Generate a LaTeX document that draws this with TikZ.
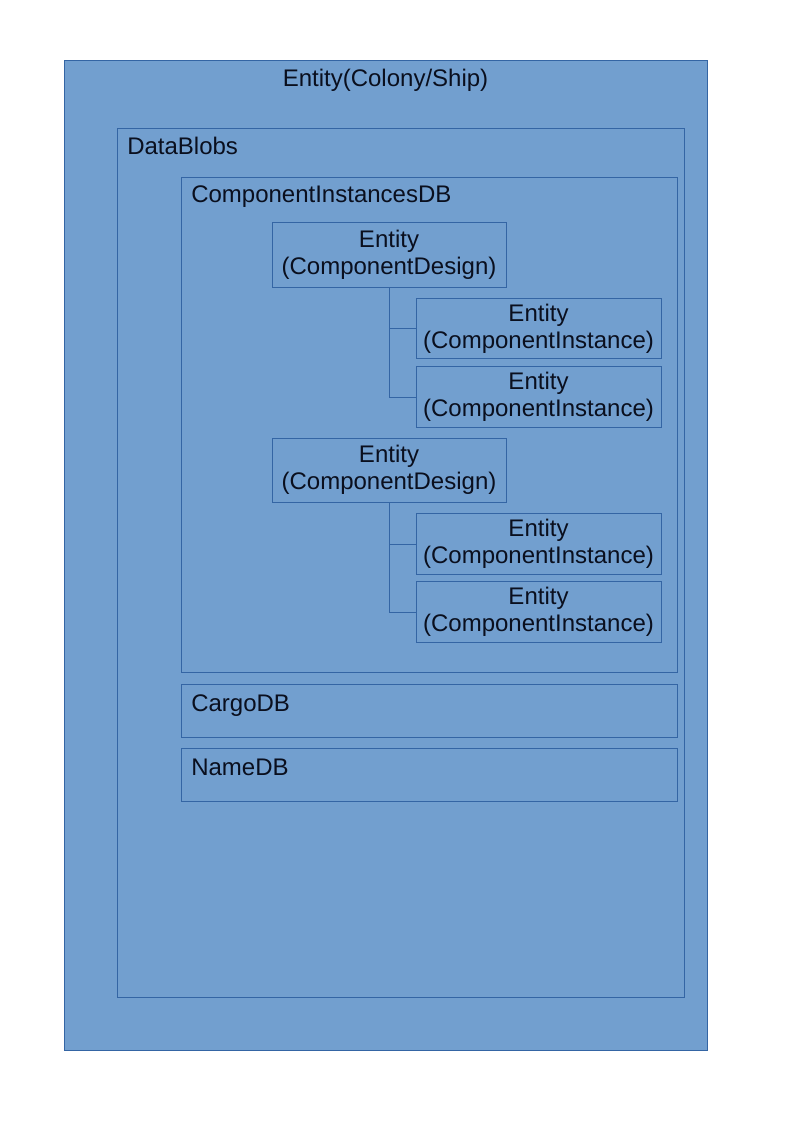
\documentclass[tikz,border=0pt]{standalone}
\usepackage{fontspec}
\setmainfont{Liberation Sans}
\usepackage{tikz}
\usetikzlibrary{fit}
\definecolor{boxfill}{HTML}{729FCF}
\definecolor{boxline}{HTML}{3465A4}
\definecolor{txtdark}{RGB}{10,15,30}
\tikzset{
  box/.style={rectangle, draw=boxline, fill=boxfill, line width=0.75pt, inner sep=0pt},
  entbox/.style={rectangle, draw=boxline, fill=boxfill, line width=0.75pt,
    align=center, inner sep=1pt, text=txtdark,
    font=\fontsize{18}{20.5}\selectfont},
  design/.style={entbox, minimum width=175.5pt, minimum height=48pt},
  instance/.style={entbox, minimum width=183.75pt, minimum height=45.4pt},
  lbl/.style={anchor=base west, inner sep=0pt, text=txtdark,
    font=\fontsize{18}{20.5}\selectfont},
  conn/.style={draw=boxline, line width=0.75pt}
}
\begin{document}
\begin{tikzpicture}[x=0.75pt, y=-0.75pt]
  \useasboundingbox (0,0) rectangle (794,1123);

  % Containers
  \node[box, fit={(64,61) (707,1050)}] (ship) {};
  \node[box, fit={(117,129) (684,997)}] (blobs) {};
  \node[box, fit={(181,178) (677,672)}] (cidb) {};
  \node[box, fit={(181,684) (677,737)}] (cargo) {};
  \node[box, fit={(181,748) (677,801)}] (names) {};

  % Container labels
  \node[lbl, anchor=base] (shiplbl) at (385.5,87) {Entity(Colony/Ship)};
  \node[lbl] (blobslbl) at (127,155) {DataBlobs};
  \node[lbl] (cidblbl) at (191,203) {ComponentInstancesDB};
  \node[lbl] (cargolbl) at (191,711) {CargoDB};
  \node[lbl] (nameslbl) at (191,775) {NameDB};

  % Designs and their instances
  \node[design] (des1) at (389,255) {Entity\\(ComponentDesign)};
  \node[instance] (inst1) at (538.5,328.5) {Entity\\(ComponentInstance)};
  \node[instance] (inst2) at (538.5,397) {Entity\\(ComponentInstance)};
  \node[design] (des2) at (389,470) {Entity\\(ComponentDesign)};
  \node[instance] (inst3) at (538.5,544) {Entity\\(ComponentInstance)};
  \node[instance] (inst4) at (538.5,612) {Entity\\(ComponentInstance)};

  % Tree lines
  \draw[conn] (des1.south) |- (inst1.west);
  \draw[conn] (des1.south) |- (inst2.west);
  \draw[conn] (des2.south) |- (inst3.west);
  \draw[conn] (des2.south) |- (inst4.west);
\end{tikzpicture}
\end{document}
